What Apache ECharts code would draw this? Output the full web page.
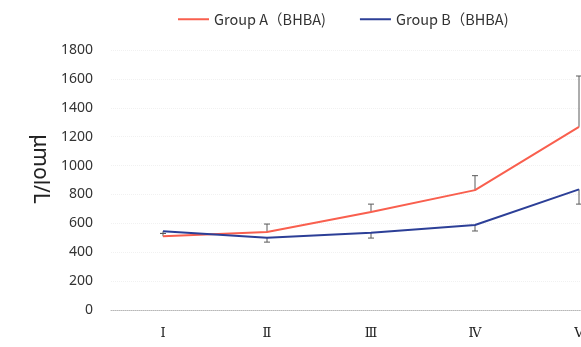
<!DOCTYPE html>
<html>
<head>
<meta charset="utf-8">
<script src="https://cdn.jsdelivr.net/npm/echarts@6/dist/echarts.min.js"></script>
<style>
  html, body { margin: 0; padding: 0; background: #fff; }
  #chart { width: 581px; height: 347px; }
</style>
</head>
<body>
<div id="chart"></div>
<script>
// Stages on the x axis
const stages = ['Ⅰ', 'Ⅱ', 'Ⅲ', 'Ⅳ', 'Ⅴ'];

// Mean BHBA concentration (μmol/L) per stage
const groupA = [510, 540, 678, 830, 1268];
const groupB = [545, 500, 535, 588, 835];

// One-sided error bars: Group A upward, Group B downward
const groupAErr = [20, 55, 55, 100, 352];
const groupBErr = [15, 30, 37, 41, 102];

const nameA = 'Group A（BHBA)';
const nameB = 'Group B（BHBA)';
const colorA = '#f95f4e';
const colorB = '#2c3f97';

// Build [categoryIndex, mean, error, direction] rows for the error-bar series
function errRows(means, errs, dir) {
  return means.map((m, i) => [i, m, errs[i], dir]);
}

function renderErrorBar(params, api) {
  const idx = api.value(0);
  const mean = api.value(1);
  const err = api.value(2);
  const dir = api.value(3);
  const p0 = api.coord([idx, mean]);
  const p1 = api.coord([idx, mean + dir * err]);
  const cap = 3;
  const style = { stroke: '#5a5a5a', lineWidth: 1 };
  return {
    type: 'group',
    children: [
      { type: 'line', shape: { x1: p0[0], y1: p0[1], x2: p1[0], y2: p1[1] }, style: style },
      { type: 'line', shape: { x1: p1[0] - cap, y1: p1[1], x2: p1[0] + cap, y2: p1[1] }, style: style }
    ]
  };
}

const chart = echarts.init(document.getElementById('chart'), null, { renderer: 'canvas' });

chart.setOption({
  animation: false,
  backgroundColor: '#ffffff',
  legend: {
    top: 7,
    left: 173,
    itemWidth: 31,
    itemHeight: 2,
    itemGap: 34,
    icon: 'rect',
    textStyle: { fontSize: 14.5, color: '#333', fontFamily: 'Noto Sans CJK JP, sans-serif' },
    data: [nameA, nameB]
  },
  grid: { left: 111, top: 50, width: 520, height: 260, outerBoundsMode: 'none', containLabel: false },
  xAxis: {
    type: 'category',
    data: stages,
    boundaryGap: true,
    axisLine: { show: true, lineStyle: { color: '#b8b8b8', type: 'dotted', width: 1 } },
    axisTick: { show: false },
    axisLabel: {
      margin: 17,
      fontSize: 13,
      color: '#222',
      fontFamily: 'DejaVu Serif, Liberation Serif, serif'
    }
  },
  yAxis: {
    type: 'value',
    min: 0,
    max: 1800,
    interval: 200,
    name: 'μmol/L',
    nameLocation: 'middle',
    nameRotate: -90,
    nameGap: 50,
    nameTextStyle: {
      fontSize: 21,
      color: '#222',
      fontFamily: 'Noto Sans, sans-serif',
      padding: [0, 22, 0, 0]
    },
    axisLine: { show: false },
    axisTick: { show: false },
    axisLabel: {
      margin: 18,
      fontSize: 14,
      color: '#333',
      fontFamily: 'Noto Sans, sans-serif',
      formatter: v => String(v)
    },
    splitLine: { show: true, lineStyle: { color: '#f1f1f1', type: 'dotted', width: 1 } }
  },
  series: [
    {
      name: nameA,
      type: 'line',
      data: groupA,
      symbol: 'none',
      lineStyle: { color: colorA, width: 2 },
      itemStyle: { color: colorA },
      z: 3
    },
    {
      name: nameB,
      type: 'line',
      data: groupB,
      symbol: 'none',
      lineStyle: { color: colorB, width: 2 },
      itemStyle: { color: colorB },
      z: 3
    },
    {
      type: 'custom',
      renderItem: renderErrorBar,
      data: errRows(groupA, groupAErr, 1),
      encode: { x: 0, y: 1 },
      silent: true,
      z: 2
    },
    {
      type: 'custom',
      renderItem: renderErrorBar,
      data: errRows(groupB, groupBErr, -1),
      encode: { x: 0, y: 1 },
      silent: true,
      z: 2
    }
  ]
});
</script>
</body>
</html>
